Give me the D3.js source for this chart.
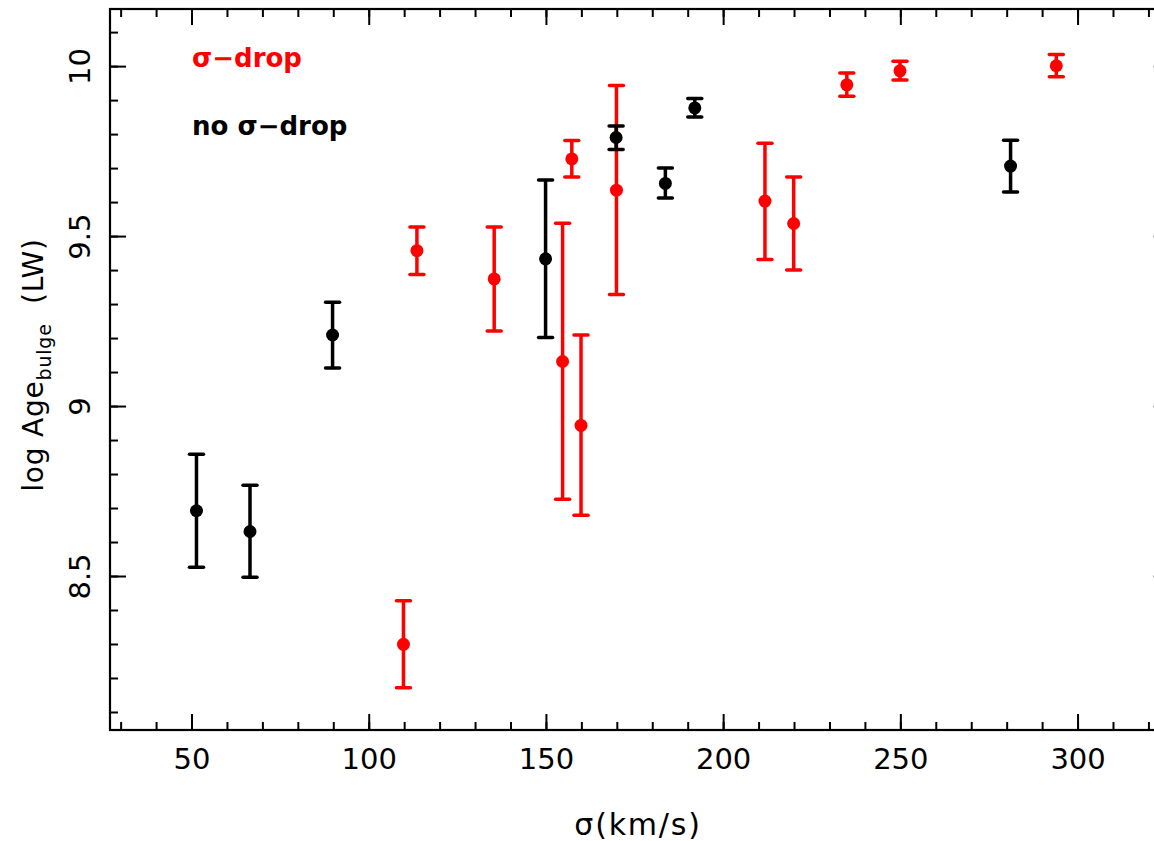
<!DOCTYPE html>
<html>
<head>
<meta charset="utf-8">
<script src="https://cdn.jsdelivr.net/npm/d3@7"></script>
<style>
  html, body { margin: 0; padding: 0; background: #fff; }
  svg { display: block; }
  text { font-family: "DejaVu Sans", sans-serif; }
</style>
</head>
<body>
<svg id="chart" width="1154" height="841"></svg>
<script>
// ---- data ----
const redSigma = [109.8, 113.6, 135.4, 154.7, 159.9, 157.3, 169.9, 211.8, 219.9, 234.9, 249.9, 294.0];
const redAge   = [8.299, 9.457, 9.374, 9.131, 8.943, 9.727, 9.635, 9.603, 9.537, 9.945, 9.986, 10.001];
const redLo    = [8.171, 9.387, 9.221, 8.726, 8.679, 9.674, 9.328, 9.431, 9.400, 9.911, 9.959, 9.969];
const redHi    = [8.427, 9.527, 9.527, 9.538, 9.209, 9.781, 9.943, 9.773, 9.674, 9.980, 10.014, 10.034];

const blackSigma = [51.4, 66.5, 89.8, 149.9, 169.8, 183.7, 192.0, 281.1];
const blackAge   = [8.692, 8.631, 9.209, 9.433, 9.790, 9.655, 9.877, 9.706];
const blackLo    = [8.526, 8.496, 9.112, 9.202, 9.755, 9.612, 9.850, 9.630];
const blackHi    = [8.858, 8.767, 9.305, 9.665, 9.824, 9.700, 9.905, 9.782];

const xMajor = [50, 100, 150, 200, 250, 300];
const xMinor = d3.range(30, 330, 10);
const yMajor = [8.5, 9, 9.5, 10];
const yMinor = d3.range(81, 102).map(d => d / 10);

const legendLabels = ["σ\u2212drop", "no σ\u2212drop"];
const legendColors = ["#ff0000", "#000000"];

// ---- layout ----
const L = 110, R = 1169.7, T = 9, B = 730;
const svg = d3.select("#chart");
const x = d3.scaleLinear().domain([27, 326]).range([L, R]);
const y = d3.scaleLinear().domain([8.047, 10.168]).range([B, T]);

const fontSize = 29;

function styleAxis(g) {
  g.select(".domain").remove();
  g.selectAll(".tick line").attr("stroke", "#000").attr("stroke-width", 2);
  g.selectAll("text").attr("font-size", fontSize).attr("fill", "#000")
    .style("font-family", "DejaVu Sans, sans-serif");
}

// bottom axis (inward ticks)
svg.append("g").attr("transform", `translate(0,${B})`)
  .call(d3.axisBottom(x).tickValues(xMinor).tickSize(-8).tickFormat(""))
  .call(styleAxis);
svg.append("g").attr("transform", `translate(0,${B})`)
  .call(d3.axisBottom(x).tickValues(xMajor).tickSize(-16).tickPadding(18).tickFormat(d3.format("d")))
  .call(styleAxis)
  .call(g => g.selectAll("text").attr("dy", "0.71em"));

// top axis
svg.append("g").attr("transform", `translate(0,${T})`)
  .call(d3.axisBottom(x).tickValues(xMinor).tickSize(8).tickFormat(""))
  .call(styleAxis);
svg.append("g").attr("transform", `translate(0,${T})`)
  .call(d3.axisBottom(x).tickValues(xMajor).tickSize(16).tickFormat(""))
  .call(styleAxis);

// left axis
svg.append("g").attr("transform", `translate(${L},0)`)
  .call(d3.axisLeft(y).tickValues(yMinor).tickSize(-8).tickFormat(""))
  .call(styleAxis);
svg.append("g").attr("transform", `translate(${L},0)`)
  .call(d3.axisLeft(y).tickValues(yMajor).tickSize(-16).tickFormat(d => d3.format("")(d)))
  .call(styleAxis)
  .call(g => g.selectAll("text")
    .attr("x", 0).attr("y", -20).attr("dy", 0)
    .attr("text-anchor", "middle")
    .attr("transform", "rotate(-90)"));

// right axis
svg.append("g").attr("transform", `translate(${R},0)`)
  .call(d3.axisLeft(y).tickValues(yMinor).tickSize(8).tickFormat(""))
  .call(styleAxis);
svg.append("g").attr("transform", `translate(${R},0)`)
  .call(d3.axisLeft(y).tickValues(yMajor).tickSize(16).tickFormat(""))
  .call(styleAxis);

// frame
svg.append("rect")
  .attr("x", L).attr("y", T).attr("width", R - L).attr("height", B - T)
  .attr("fill", "none").attr("stroke", "#000").attr("stroke-width", 2.2);

// ---- error bars + points ----
function drawSeries(sig, age, lo, hi, color) {
  const data = sig.map((s, i) => ({ s, a: age[i], lo: lo[i], hi: hi[i] }));
  const g = svg.append("g");
  const capW = 7;
  const bar = g.selectAll("g.pt").data(data).join("g").attr("class", "pt");
  bar.append("line")
    .attr("x1", d => x(d.s)).attr("x2", d => x(d.s))
    .attr("y1", d => y(d.lo)).attr("y2", d => y(d.hi))
    .attr("stroke", color).attr("stroke-width", 3.5);
  bar.append("line")
    .attr("x1", d => x(d.s) - capW).attr("x2", d => x(d.s) + capW)
    .attr("y1", d => y(d.hi)).attr("y2", d => y(d.hi))
    .attr("stroke", color).attr("stroke-width", 3.5).attr("stroke-linecap", "round");
  bar.append("line")
    .attr("x1", d => x(d.s) - capW).attr("x2", d => x(d.s) + capW)
    .attr("y1", d => y(d.lo)).attr("y2", d => y(d.lo))
    .attr("stroke", color).attr("stroke-width", 3.5).attr("stroke-linecap", "round");
  bar.append("circle")
    .attr("cx", d => x(d.s)).attr("cy", d => y(d.a)).attr("r", 6.5)
    .attr("fill", color);
}
drawSeries(redSigma, redAge, redLo, redHi, "#ff0000");
drawSeries(blackSigma, blackAge, blackLo, blackHi, "#000000");

// ---- legend ----
svg.selectAll("text.legend").data(legendLabels).join("text")
  .attr("class", "legend")
  .attr("x", 192).attr("y", (d, i) => 67 + i * 68)
  .attr("font-size", 26).attr("font-weight", "bold")
  .attr("fill", (d, i) => legendColors[i])
  .text(d => d);

// ---- axis titles ----
svg.append("text")
  .attr("x", 638).attr("y", 835)
  .attr("text-anchor", "middle")
  .attr("font-size", 30).attr("letter-spacing", 1.8)
  .text("σ(km/s)");

const yl = svg.append("text")
  .attr("transform", "translate(43,365) rotate(-90)")
  .attr("text-anchor", "middle")
  .attr("font-size", 28)
  .attr("letter-spacing", 0.8)
  .attr("xml:space", "preserve");
yl.append("tspan").text("log Age");
yl.append("tspan").attr("font-size", 19).attr("dy", 8).text("bulge");
yl.append("tspan").attr("dy", -8).text("  (LW)");
</script>
</body>
</html>
